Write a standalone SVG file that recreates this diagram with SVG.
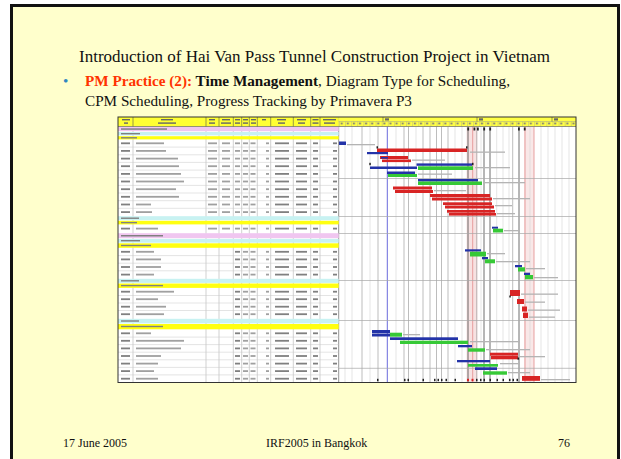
<svg xmlns="http://www.w3.org/2000/svg" width="621" height="459" viewBox="0 0 621 459">
<style>
.t{font-family:"Liberation Serif","Times New Roman",serif;fill:#111}
.sd{fill:#808080}
.st{fill:#a0a0a0}
.hs{fill:#666}
.pk{fill:#F0C6F0}
.cy{fill:#C8F2F2}
.ye{fill:#FFFF10}
.cl{stroke:#b4b4b4;stroke-width:0.6}
.ch{stroke:#555;stroke-width:0.6}
.hl{stroke:#c8c8c8;stroke-width:0.5}
.gl{stroke:#d4d4d4;stroke-width:0.6}
.gm{stroke:#a0a0a0;stroke-width:0.7}
.gd{stroke:#4a4a4a;stroke-width:0.8}
.gb{stroke:#5a5ad8;stroke-width:0.9}
.gr{stroke:#e28a8a;stroke-width:0.8}
.sep{stroke:#a8a8a8;stroke-width:0.7}
.r{fill:#D82424}
.b{fill:#2333A8}
.g{fill:#36C936}
.lb{fill:#b4b4b4}
.mk{fill:#222}
</style>
<defs>
<pattern id="tk" x="339" y="117" width="6.1" height="9.5" patternUnits="userSpaceOnUse">
<rect x="1.6" y="5.6" width="2.2" height="1.6" fill="#7a7a7a"/>
<line x1="0.2" y1="4.6" x2="0.2" y2="9.5" stroke="#9a9a9a" stroke-width="0.5"/>
</pattern>
<g id="rs">
<rect x="121" y="-0.9" width="9" height="1.8" class="sd"/>
<rect x="208" y="-0.9" width="9" height="1.8" class="st"/>
<rect x="222" y="-0.9" width="8" height="1.8" class="st"/>
<rect x="235" y="-0.9" width="5" height="1.8" class="st"/>
<rect x="243" y="-0.9" width="5" height="1.8" class="st"/>
<rect x="250.5" y="-0.9" width="5" height="1.8" class="st"/>
<rect x="266" y="-0.9" width="3" height="1.8" class="st"/>
<rect x="275" y="-0.9" width="14" height="1.8" class="sd"/>
<rect x="296" y="-0.9" width="11" height="1.8" class="sd"/>
<rect x="313" y="-0.9" width="5" height="1.8" class="sd"/>
<rect x="333" y="-0.9" width="4" height="1.8" class="sd"/>
</g>
<g id="rs2">
<rect x="121" y="-0.9" width="9" height="1.8" class="sd"/>
<rect x="235" y="-0.9" width="5" height="1.8" class="sd"/>
<rect x="243" y="-0.9" width="5" height="1.8" class="st"/>
<rect x="250.5" y="-0.9" width="5" height="1.8" class="st"/>
<rect x="266" y="-0.9" width="3" height="1.8" class="st"/>
<rect x="275" y="-0.9" width="14" height="1.8" class="sd"/>
<rect x="296" y="-0.9" width="11" height="1.8" class="sd"/>
<rect x="313" y="-0.9" width="5" height="1.8" class="sd"/>
<rect x="333" y="-0.9" width="4" height="1.8" class="sd"/>
</g>
</defs>

<rect x="0" y="0" width="621" height="459" fill="#fff"/>
<g id="slide">
<rect x="11.5" y="5.5" width="607" height="462" fill="#FFFFCC" stroke="#111" stroke-width="3"/>
</g>

<g id="title">
<text class="t" x="79" y="62" font-size="17">Introduction of Hai Van Pass Tunnel Construction Project in Vietnam</text>
</g>
<g id="bullet">
<text class="t" x="63" y="86" font-size="15.2" style="fill:#2E86C1">•</text>
<text class="t" x="85" y="86" font-size="15.2"><tspan font-weight="bold" style="fill:#FF3300">PM Practice (2):</tspan><tspan font-weight="bold"> Time Management</tspan>, Diagram Type for Scheduling,</text>
<text class="t" x="85" y="106" font-size="15.2">CPM Scheduling, Progress Tracking by Primavera P3</text>
</g>

<g id="gantt-screenshot">
<rect x="118" y="117" width="458" height="265.5" fill="#fff"/>
<rect x="466.5" y="126.5" width="11" height="256" fill="#F7E2E2"/>
<rect x="524" y="126.5" width="10" height="256" fill="#F9E8E8"/>
<g id="table-cols">
<line class="cl" x1="133" y1="126.5" x2="133" y2="382.5"/>
<line class="cl" x1="206" y1="126.5" x2="206" y2="382.5"/>
<line class="cl" x1="219" y1="126.5" x2="219" y2="382.5"/>
<line class="cl" x1="233.3" y1="126.5" x2="233.3" y2="382.5"/>
<line class="cl" x1="241.7" y1="126.5" x2="241.7" y2="382.5"/>
<line class="cl" x1="249.3" y1="126.5" x2="249.3" y2="382.5"/>
<line class="cl" x1="257.3" y1="126.5" x2="257.3" y2="382.5"/>
<line class="cl" x1="270.7" y1="126.5" x2="270.7" y2="382.5"/>
<line class="cl" x1="293.3" y1="126.5" x2="293.3" y2="382.5"/>
<line class="cl" x1="310.7" y1="126.5" x2="310.7" y2="382.5"/>
<line class="cl" x1="320" y1="126.5" x2="320" y2="382.5"/>
<line x1="338.7" y1="117" x2="338.7" y2="382.5" stroke="#777" stroke-width="0.8"/>
</g>
<g id="table-rows">
<line class="hl" x1="118" y1="147.1" x2="338.7" y2="147.1"/>
<line class="hl" x1="118" y1="154.8" x2="338.7" y2="154.8"/>
<line class="hl" x1="118" y1="162.4" x2="338.7" y2="162.4"/>
<line class="hl" x1="118" y1="170.1" x2="338.7" y2="170.1"/>
<line class="hl" x1="118" y1="177.7" x2="338.7" y2="177.7"/>
<line class="hl" x1="118" y1="185.4" x2="338.7" y2="185.4"/>
<line class="hl" x1="118" y1="193" x2="338.7" y2="193"/>
<line class="hl" x1="118" y1="200.7" x2="338.7" y2="200.7"/>
<line class="hl" x1="118" y1="208.3" x2="338.7" y2="208.3"/>
<line class="hl" x1="118" y1="255.6" x2="338.7" y2="255.6"/>
<line class="hl" x1="118" y1="263.2" x2="338.7" y2="263.2"/>
<line class="hl" x1="118" y1="270.8" x2="338.7" y2="270.8"/>
<line class="hl" x1="118" y1="295.5" x2="338.7" y2="295.5"/>
<line class="hl" x1="118" y1="303" x2="338.7" y2="303"/>
<line class="hl" x1="118" y1="310.5" x2="338.7" y2="310.5"/>
<line class="hl" x1="118" y1="337.1" x2="338.7" y2="337.1"/>
<line class="hl" x1="118" y1="344.6" x2="338.7" y2="344.6"/>
<line class="hl" x1="118" y1="352.2" x2="338.7" y2="352.2"/>
<line class="hl" x1="118" y1="359.8" x2="338.7" y2="359.8"/>
<line class="hl" x1="118" y1="367.4" x2="338.7" y2="367.4"/>
<line class="hl" x1="118" y1="374.9" x2="338.7" y2="374.9"/>
</g>
<g id="bands">
<rect class="pk" x="118" y="126.8" width="220.7" height="4.4"/>
<rect class="cy" x="118" y="132" width="220.7" height="3.4"/>
<rect class="ye" x="118" y="136.2" width="220.7" height="3.2"/>
<rect class="cy" x="118" y="216.2" width="220.7" height="4"/>
<rect class="ye" x="118" y="220.8" width="220.7" height="3.6"/>
<rect class="pk" x="118" y="233.2" width="220.7" height="5"/>
<rect class="cy" x="118" y="238.9" width="220.7" height="3.8"/>
<rect class="ye" x="118" y="243.3" width="220.7" height="4.5"/>
<rect class="cy" x="118" y="278.8" width="220.7" height="4.1"/>
<rect class="ye" x="118" y="283.5" width="220.7" height="4.4"/>
<rect class="cy" x="118" y="318.8" width="220.7" height="4.6"/>
<rect class="ye" x="118" y="324" width="220.7" height="5.3"/>
<rect x="121" y="128.3" width="46" height="1.5" class="sd"/>
<rect x="121" y="133" width="19" height="1.4" class="sd"/>
<rect x="121" y="137.1" width="16" height="1.4" class="sd"/>
<rect x="121" y="217.5" width="18" height="1.4" class="sd"/>
<rect x="121" y="221.9" width="16" height="1.4" class="sd"/>
<rect x="121" y="235" width="42" height="1.5" class="sd"/>
<rect x="121" y="240" width="19" height="1.4" class="sd"/>
<rect x="121" y="244.8" width="30" height="1.4" class="sd"/>
<rect x="121" y="280.1" width="18" height="1.4" class="sd"/>
<rect x="121" y="284.9" width="42" height="1.4" class="sd"/>
<rect x="121" y="320.3" width="18" height="1.4" class="sd"/>
<rect x="121" y="325.8" width="42" height="1.4" class="sd"/>
</g>
<g id="row-stubs">
<use href="#rs" y="143.3"/><rect x="136" y="142.4" width="28" height="1.8" class="st"/>
<use href="#rs" y="150.9"/><rect x="136" y="150" width="30" height="1.8" class="st"/>
<use href="#rs" y="158.6"/><rect x="136" y="157.7" width="42" height="1.8" class="st"/>
<use href="#rs" y="166.2"/><rect x="136" y="165.3" width="43" height="1.8" class="st"/>
<use href="#rs" y="173.9"/><rect x="136" y="173" width="45" height="1.8" class="st"/>
<use href="#rs" y="181.5"/><rect x="136" y="180.6" width="48" height="1.8" class="st"/>
<use href="#rs" y="189.2"/><rect x="136" y="188.3" width="40" height="1.8" class="st"/>
<use href="#rs" y="196.8"/><rect x="136" y="195.9" width="43" height="1.8" class="st"/>
<use href="#rs" y="204.5"/><rect x="136" y="203.6" width="15" height="1.8" class="st"/>
<use href="#rs" y="212.1"/><rect x="136" y="211.2" width="16" height="1.8" class="st"/>
<use href="#rs" y="228.6"/><rect x="136" y="227.7" width="22" height="1.8" class="st"/>
<use href="#rs2" y="251.8"/><rect x="136" y="250.9" width="18" height="1.8" class="st"/>
<use href="#rs2" y="259.4"/><rect x="136" y="258.5" width="25" height="1.8" class="st"/>
<use href="#rs2" y="267"/><rect x="136" y="266.1" width="25" height="1.8" class="st"/>
<use href="#rs2" y="274.6"/><rect x="136" y="273.7" width="18" height="1.8" class="st"/>
<use href="#rs2" y="291.7"/><rect x="136" y="290.8" width="38" height="1.8" class="st"/>
<use href="#rs2" y="299.2"/><rect x="136" y="298.3" width="22" height="1.8" class="st"/>
<use href="#rs2" y="306.7"/><rect x="136" y="305.8" width="30" height="1.8" class="st"/>
<use href="#rs2" y="314.2"/><rect x="136" y="313.3" width="28" height="1.8" class="st"/>
<use href="#rs2" y="333.3"/><rect x="136" y="332.4" width="15" height="1.8" class="st"/>
<use href="#rs2" y="340.8"/><rect x="136" y="339.9" width="48" height="1.8" class="st"/>
<use href="#rs2" y="348.4"/><rect x="136" y="347.5" width="45" height="1.8" class="st"/>
<use href="#rs2" y="356"/><rect x="136" y="355.1" width="25" height="1.8" class="st"/>
<use href="#rs2" y="363.6"/><rect x="136" y="362.7" width="22" height="1.8" class="st"/>
<use href="#rs2" y="371.1"/><rect x="136" y="370.2" width="18" height="1.8" class="st"/>
<use href="#rs2" y="378.7"/><rect x="136" y="377.8" width="22" height="1.8" class="st"/>
</g>
<g id="table-header">
<rect x="118" y="117" width="220.7" height="9.5" fill="#FFFF33"/>
<line class="ch" x1="133" y1="117" x2="133" y2="126.5"/>
<line class="ch" x1="206" y1="117" x2="206" y2="126.5"/>
<line class="ch" x1="219" y1="117" x2="219" y2="126.5"/>
<line class="ch" x1="233.3" y1="117" x2="233.3" y2="126.5"/>
<line class="ch" x1="241.7" y1="117" x2="241.7" y2="126.5"/>
<line class="ch" x1="249.3" y1="117" x2="249.3" y2="126.5"/>
<line class="ch" x1="257.3" y1="117" x2="257.3" y2="126.5"/>
<line class="ch" x1="270.7" y1="117" x2="270.7" y2="126.5"/>
<line class="ch" x1="293.3" y1="117" x2="293.3" y2="126.5"/>
<line class="ch" x1="310.7" y1="117" x2="310.7" y2="126.5"/>
<line class="ch" x1="320" y1="117" x2="320" y2="126.5"/>
<rect class="hs" x="122" y="119" width="8" height="1.4"/><rect class="hs" x="124" y="122.4" width="4" height="1.4"/>
<rect class="hs" x="161" y="119" width="12" height="1.4"/><rect class="hs" x="158" y="122.4" width="18" height="1.4"/>
<rect class="hs" x="209" y="119" width="6" height="1.4"/><rect class="hs" x="209" y="122.4" width="6" height="1.4"/>
<rect class="hs" x="222" y="119" width="8" height="1.4"/><rect class="hs" x="221" y="122.4" width="10" height="1.4"/>
<rect class="hs" x="235" y="119" width="5" height="1.4"/><rect class="hs" x="235" y="122.4" width="5" height="1.4"/>
<rect class="hs" x="243" y="119" width="5" height="1.4"/><rect class="hs" x="243" y="122.4" width="5" height="1.4"/>
<rect class="hs" x="251" y="119" width="5" height="1.4"/><rect class="hs" x="251" y="122.4" width="5" height="1.4"/>
<rect class="hs" x="262" y="119" width="4" height="1.4"/>
<rect class="hs" x="277" y="119" width="9" height="1.4"/><rect class="hs" x="278" y="122.4" width="7" height="1.4"/>
<rect class="hs" x="297" y="119" width="9" height="1.4"/><rect class="hs" x="298" y="122.4" width="7" height="1.4"/>
<rect class="hs" x="312.5" y="119" width="6" height="1.4"/><rect class="hs" x="312.5" y="122.4" width="6" height="1.4"/>
<rect class="hs" x="323" y="119" width="13" height="1.4"/><rect class="hs" x="324" y="122.4" width="11" height="1.4"/>
</g>

<g id="gantt-grid">
<line class="gl" x1="345" y1="126.5" x2="345" y2="382.5"/>
<line class="gl" x1="352" y1="126.5" x2="352" y2="382.5"/>
<line class="gm" x1="362" y1="126.5" x2="362" y2="382.5"/>
<line class="gl" x1="370" y1="126.5" x2="370" y2="382.5"/>
<line class="gm" x1="378" y1="126.5" x2="378" y2="382.5"/>
<line class="gb" x1="387.3" y1="126.5" x2="387.3" y2="382.5"/>
<line class="gl" x1="396" y1="126.5" x2="396" y2="382.5"/>
<line class="gm" x1="404" y1="126.5" x2="404" y2="382.5"/>
<line class="gm" x1="408.5" y1="126.5" x2="408.5" y2="382.5"/>
<line class="gl" x1="416" y1="126.5" x2="416" y2="382.5"/>
<line class="gm" x1="423" y1="126.5" x2="423" y2="382.5"/>
<line class="gm" x1="430" y1="126.5" x2="430" y2="382.5"/>
<line class="gm" x1="436.5" y1="126.5" x2="436.5" y2="382.5"/>
<line class="gm" x1="441.5" y1="126.5" x2="441.5" y2="382.5"/>
<line class="gm" x1="448" y1="126.5" x2="448" y2="382.5"/>
<line class="gl" x1="455" y1="126.5" x2="455" y2="382.5"/>
<line class="gl" x1="462" y1="126.5" x2="462" y2="382.5"/>
<line class="gd" x1="468" y1="126.5" x2="468" y2="382.5"/>
<line class="gr" x1="472.7" y1="126.5" x2="472.7" y2="382.5"/>
<line class="gm" x1="476.7" y1="126.5" x2="476.7" y2="382.5"/>
<line class="gl" x1="481" y1="126.5" x2="481" y2="382.5"/>
<line class="gd" x1="484" y1="126.5" x2="484" y2="382.5"/>
<line class="gd" x1="490" y1="126.5" x2="490" y2="382.5"/>
<line class="gl" x1="496.7" y1="126.5" x2="496.7" y2="382.5"/>
<line class="gl" x1="503" y1="126.5" x2="503" y2="382.5"/>
<line class="gl" x1="509" y1="126.5" x2="509" y2="382.5"/>
<line class="gm" x1="512.7" y1="126.5" x2="512.7" y2="382.5"/>
<line class="gd" x1="519" y1="126.5" x2="519" y2="382.5"/>
<line class="gr" x1="525" y1="126.5" x2="525" y2="382.5"/>
<line class="gl" x1="530" y1="126.5" x2="530" y2="382.5"/>
<line class="gr" x1="534" y1="126.5" x2="534" y2="382.5"/>
<line class="gl" x1="541" y1="126.5" x2="541" y2="382.5"/>
<line class="gl" x1="548" y1="126.5" x2="548" y2="382.5"/>
<line class="gl" x1="555" y1="126.5" x2="555" y2="382.5"/>
<line class="gl" x1="562" y1="126.5" x2="562" y2="382.5"/>
<line class="gl" x1="569" y1="126.5" x2="569" y2="382.5"/>
<line class="sep" x1="338.7" y1="178.5" x2="576" y2="178.5"/>
<line class="sep" x1="338.7" y1="216.5" x2="576" y2="216.5"/>
<line class="sep" x1="338.7" y1="233.5" x2="576" y2="233.5"/>
<line class="sep" x1="338.7" y1="280.5" x2="576" y2="280.5"/>
<line class="sep" x1="338.7" y1="320.5" x2="576" y2="320.5"/>
<line class="sep" x1="338.7" y1="368.3" x2="576" y2="368.3"/>
</g>

<g id="gantt-header">
<rect x="338.7" y="117" width="237.3" height="9.5" fill="#FFFF44"/>
<rect x="338.7" y="117" width="237.3" height="9.5" fill="url(#tk)"/>
<line x1="338.7" y1="121.6" x2="576" y2="121.6" stroke="#999" stroke-width="0.5"/>
<line x1="383" y1="117" x2="383" y2="121.6" stroke="#555" stroke-width="0.6"/>
<line x1="477" y1="117" x2="477" y2="121.6" stroke="#555" stroke-width="0.6"/>
<line x1="552" y1="117" x2="552" y2="121.6" stroke="#555" stroke-width="0.6"/>
<rect x="385" y="118.3" width="4" height="2.2" class="hs"/>
<rect x="479" y="118.3" width="4" height="2.2" class="hs"/>
<rect x="554" y="118.3" width="4" height="2.2" class="hs"/>
<line x1="338.7" y1="126.5" x2="576" y2="126.5" stroke="#666" stroke-width="0.7"/>
<line x1="118" y1="126.5" x2="338.7" y2="126.5" stroke="#666" stroke-width="0.7"/>
</g>

<g id="marks">
<rect class="mk" x="467.3" y="127.5" width="1.8" height="3"/>
<rect class="mk" x="473.5" y="127.5" width="1.8" height="3"/>
<rect class="mk" x="477" y="127.5" width="1.8" height="3"/>
<rect class="mk" x="483.3" y="127.5" width="1.8" height="3"/>
<rect class="mk" x="489.3" y="127.5" width="1.8" height="3"/>
<rect class="mk" x="518" y="127.5" width="1.8" height="3"/>
<rect class="mk" x="523.8" y="127.5" width="1.8" height="3"/>
<rect class="mk" x="377" y="378.8" width="1.5" height="2.4"/>
<rect class="mk" x="404" y="378.8" width="1.5" height="2.4"/>
<rect class="mk" x="407.5" y="378.8" width="1.5" height="2.4"/>
<rect class="mk" x="422.5" y="378.8" width="1.5" height="2.4"/>
<rect class="mk" x="434" y="378.8" width="1.5" height="2.4"/>
<rect class="mk" x="437.5" y="378.8" width="1.5" height="2.4"/>
<rect class="mk" x="441" y="378.8" width="1.5" height="2.4"/>
<rect class="mk" x="445.5" y="378.8" width="1.5" height="2.4"/>
<rect class="mk" x="454.5" y="378.8" width="1.5" height="2.4"/>
<rect class="r" x="467" y="378.8" width="2" height="2.4"/>
<rect class="r" x="471.5" y="378.8" width="2" height="2.4"/>
<rect class="mk" x="476" y="378.8" width="1.5" height="2.4"/>
<rect class="mk" x="480" y="378.8" width="1.5" height="2.4"/>
<rect class="mk" x="483.5" y="378.8" width="1.5" height="2.4"/>
<rect class="mk" x="489.5" y="378.8" width="1.5" height="2.4"/>
<rect class="mk" x="496.5" y="378.8" width="1.5" height="2.4"/>
<rect class="mk" x="502.5" y="378.8" width="1.5" height="2.4"/>
<rect class="mk" x="509" y="378.8" width="1.5" height="2.4"/>
<rect class="mk" x="512.5" y="378.8" width="1.5" height="2.4"/>
<rect class="mk" x="516.5" y="378.8" width="1.5" height="2.4"/>
</g>

<g id="bars">
<rect class="b" x="339" y="141.5" width="7" height="3.5"/><rect class="lb" x="347" y="144" width="28" height="1.3"/>
<rect class="r" x="377" y="148.5" width="90" height="3.5"/><rect class="b" x="367" y="152" width="21" height="2.2"/>
<rect class="mk" x="376.5" y="146.3" width="1.5" height="2.2"/><rect class="mk" x="466" y="146.3" width="1.5" height="2.2"/><rect class="lb" x="470" y="151.5" width="35" height="1.3"/>
<rect class="r" x="380" y="156" width="28" height="3"/><rect class="r" x="382" y="159.5" width="29" height="2.6"/><rect class="b" x="381" y="157" width="7" height="1.6"/><rect class="lb" x="412" y="159.5" width="33" height="1.3"/>
<rect class="b" x="416.5" y="163.4" width="55.5" height="2.4"/><rect class="b" x="370" y="166.5" width="47" height="2.5"/><rect class="g" x="418" y="166.3" width="55" height="3.7"/>
<rect class="mk" x="369.3" y="162.8" width="1.5" height="2.4"/><rect class="mk" x="472" y="162.8" width="1.5" height="2.4"/><rect class="lb" x="475" y="167" width="35" height="1.3"/>
<rect class="b" x="387" y="171.5" width="28" height="2.5"/><rect class="g" x="388" y="174" width="29" height="3"/><rect class="lb" x="418" y="173.5" width="34" height="1.3"/>
<rect class="b" x="418" y="179" width="60" height="2.5"/><rect class="g" x="418" y="181.5" width="64" height="3.5"/><rect class="lb" x="483" y="182" width="42" height="1.3"/>
<rect class="r" x="393" y="186.5" width="39" height="3"/><rect class="r" x="395" y="190" width="38" height="3"/><rect class="lb" x="434" y="190" width="32" height="1.3"/>
<rect class="r" x="430" y="194" width="60" height="3"/><rect class="r" x="432" y="197.5" width="60" height="3"/><rect class="lb" x="493" y="198" width="37" height="1.3"/>
<rect class="r" x="443" y="202.3" width="49" height="2.7"/><rect class="r" x="445" y="205.5" width="49" height="3"/><rect class="lb" x="495" y="205" width="17" height="1.3"/>
<rect class="r" x="447" y="210" width="48" height="2.7"/><rect class="r" x="449" y="213" width="47" height="2.6"/><rect class="lb" x="497" y="213" width="18" height="1.3"/>
<rect class="b" x="492" y="226.7" width="6" height="2"/><rect class="g" x="493" y="228.7" width="10" height="3.8"/><rect class="lb" x="504" y="230" width="16" height="1.3"/>
<rect class="b" x="465" y="249.3" width="16" height="2.2"/><rect class="g" x="470" y="251.7" width="16" height="4.8"/><rect class="lb" x="487" y="253" width="18" height="1.3"/>
<rect class="b" x="482" y="257" width="6" height="2.3"/><rect class="g" x="485" y="259.3" width="10" height="4"/><rect class="lb" x="496" y="261" width="34" height="1.3"/>
<rect class="b" x="515" y="265" width="7" height="2.3"/><rect class="g" x="518" y="267.3" width="7" height="4.2"/><rect class="lb" x="526" y="268" width="19" height="1.3"/>
<rect class="b" x="524" y="272.7" width="6" height="2.3"/><rect class="g" x="525" y="275" width="8" height="4.3"/><rect class="lb" x="534" y="277" width="24" height="1.3"/>
<rect class="r" x="510" y="290" width="10" height="6"/><rect class="mk" x="509.3" y="295.5" width="1.5" height="2"/><rect class="lb" x="521" y="293.5" width="37" height="1.3"/>
<rect class="r" x="517" y="299" width="7" height="5"/><rect class="lb" x="525" y="301.5" width="20" height="1.3"/>
<rect class="r" x="522" y="306.5" width="5" height="5"/><rect class="lb" x="528" y="309.5" width="32" height="1.3"/>
<rect class="r" x="523" y="312.7" width="5" height="5.3"/><rect class="lb" x="529" y="316.5" width="26" height="1.3"/>
<rect class="b" x="372" y="330" width="18" height="3"/><rect class="b" x="372" y="333.5" width="18" height="3"/><rect class="g" x="390" y="332.7" width="12" height="4"/><rect class="lb" x="403" y="334" width="17" height="1.3"/>
<rect class="b" x="390" y="337.3" width="68" height="2.7"/><rect class="g" x="400" y="340.7" width="68" height="3.3"/><rect class="lb" x="470" y="341" width="50" height="1.3"/>
<rect class="b" x="458" y="345" width="14" height="2.3"/><rect class="g" x="468" y="348.3" width="17" height="3.4"/><rect class="lb" x="486" y="349" width="44" height="1.3"/>
<rect class="r" x="490" y="352.7" width="28" height="3"/><rect class="r" x="491" y="356" width="27" height="3.3"/><rect class="mk" x="517.5" y="357.5" width="1.6" height="2.2"/><rect class="lb" x="520" y="356" width="25" height="1.3"/>
<rect class="b" x="457" y="360" width="33" height="2.3"/><rect class="g" x="468" y="364" width="30" height="2.7"/><rect class="lb" x="500" y="363" width="20" height="1.3"/>
<rect class="b" x="475" y="367.3" width="22" height="2.7"/><rect class="g" x="483" y="371.3" width="24" height="3.4"/><rect class="lb" x="508" y="372" width="22" height="1.3"/>
<rect class="r" x="522" y="376" width="18" height="4.8"/><rect class="lb" x="541" y="379" width="29" height="1.3"/>
</g>
<rect x="118" y="117" width="458" height="265.5" fill="none" stroke="#333" stroke-width="1"/>
</g>

<g id="footer">
<text class="t" font-family="Liberation Serif, serif" x="63" y="447" font-size="12">17 June 2005</text>
<text class="t" font-family="Liberation Serif, serif" x="266" y="447" font-size="12">IRF2005 in Bangkok</text>
<text class="t" font-family="Liberation Serif, serif" x="558" y="447" font-size="12">76</text>
</g>
</svg>
